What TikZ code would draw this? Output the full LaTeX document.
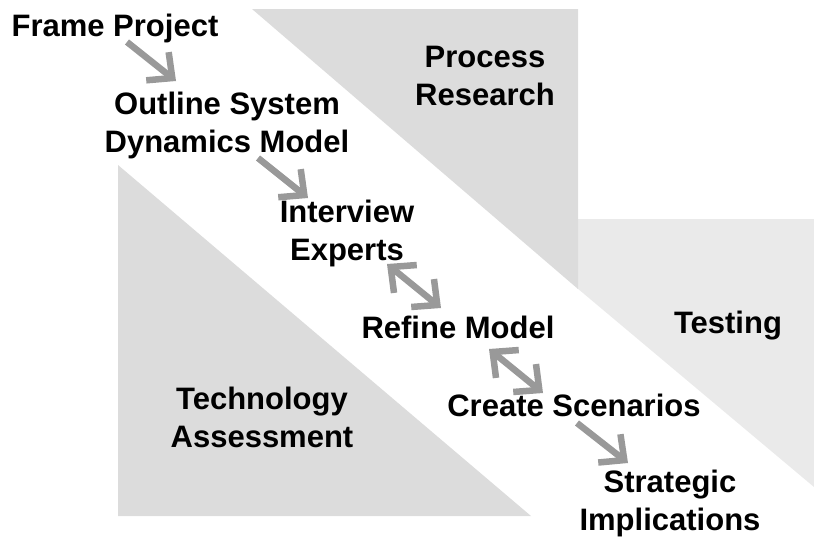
\documentclass[tikz,border=0pt]{standalone}
\usepackage{fontspec}
\setmainfont{Liberation Sans}
\usetikzlibrary{arrows.meta}
\definecolor{bandgray}{HTML}{DCDCDC}
\definecolor{testgray}{HTML}{EAEAEA}
\definecolor{arrowgray}{HTML}{999999}
\tikzset{
  label/.style={font=\fontsize{31}{38}\selectfont\bfseries, align=center, anchor=base, inner sep=0pt, text=black},
  barb/.tip={Straight Barb[length=19pt,width=36pt]},
  flow/.style={draw=arrowgray, line width=6.5pt, -barb},
  flowboth/.style={draw=arrowgray, line width=6.5pt, barb-barb}
}
\begin{document}
\begin{tikzpicture}[x=1pt,y=-1pt]
\useasboundingbox (0,0) rectangle (814,536);
% background areas
\fill[testgray] (577,219) -- (814,219) -- (814,487) -- (577,288) -- cycle;
\fill[bandgray] (252,9) -- (578,9) -- (578,289) -- cycle;
\fill[bandgray] (118,165) -- (531,516) -- (118,516) -- cycle;
% labels (base = baseline of last line)
\node[label] (fp) at (115,36) {Frame Project};
\node[label] (os) at (227,152) {Outline System\\Dynamics Model};
\node[label] (ie) at (347,260) {Interview\\Experts};
\node[label] (rm) at (458,338) {Refine Model};
\node[label] (cs) at (574,416) {Create Scenarios};
\node[label] (si) at (670,530) {Strategic\\Implications};
\node[label] (pr) at (485,105) {Process\\Research};
\node[label] (te) at (728,333) {Testing};
\node[label] (ta) at (262,447) {Technology\\Assessment};
% connector ends
\coordinate (a1s) at (127,42);  \coordinate (a1e) at (176,81);
\coordinate (a2s) at (258,158); \coordinate (a2e) at (308,198);
\coordinate (a3s) at (387,264); \coordinate (a3e) at (441,308);
\coordinate (a4s) at (489,349); \coordinate (a4e) at (543,393);
\coordinate (a5s) at (577,423); \coordinate (a5e) at (628,463);
\draw[flow] (a1s) -- (a1e);
\draw[flow] (a2s) -- (a2e);
\draw[flowboth] (a3s) -- (a3e);
\draw[flowboth] (a4s) -- (a4e);
\draw[flow] (a5s) -- (a5e);
\end{tikzpicture}
\end{document}
